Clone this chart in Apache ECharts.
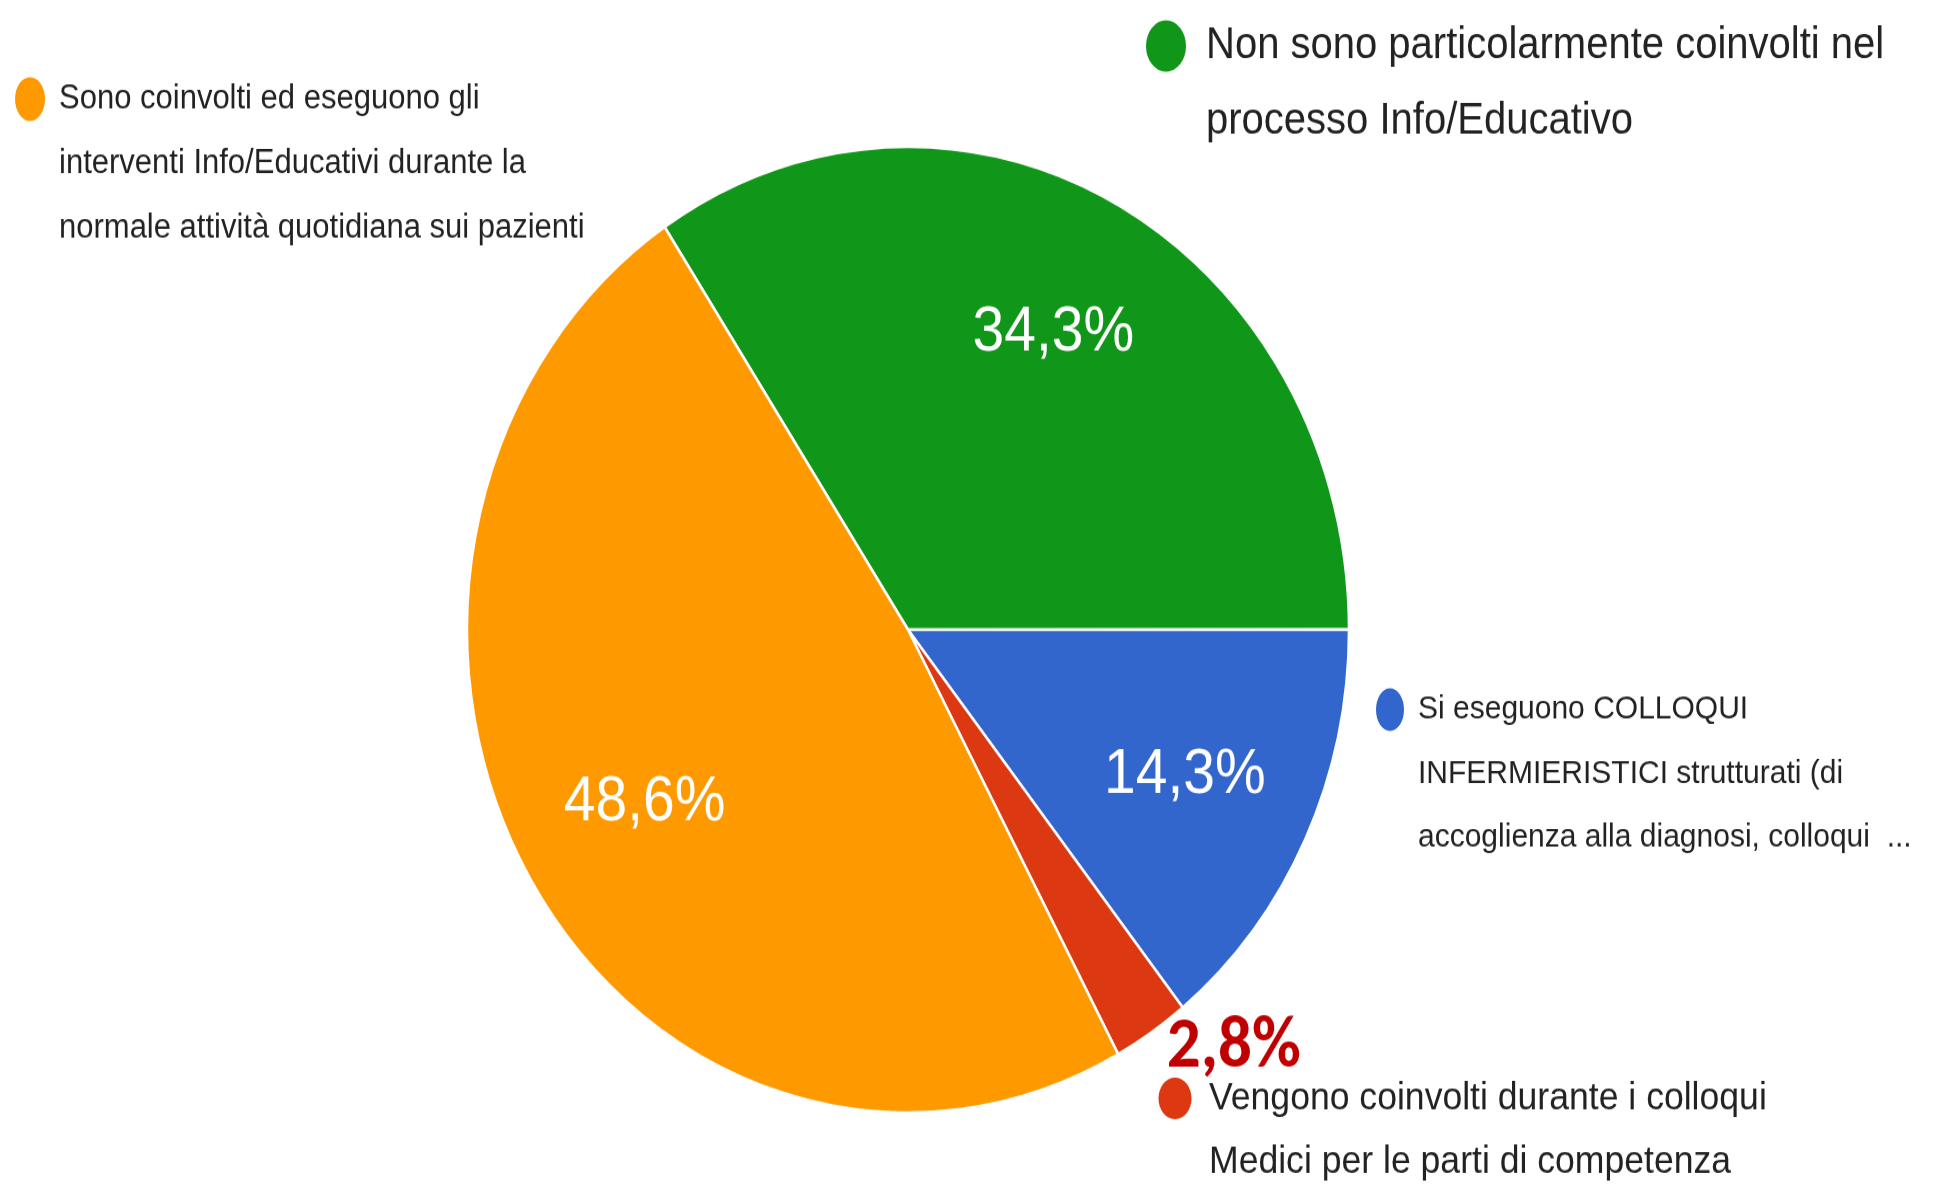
<!DOCTYPE html>
<html>
<head>
<meta charset="utf-8">
<title>Coinvolgimento nel processo Info/Educativo</title>
<script src="https://cdn.jsdelivr.net/npm/echarts@6/dist/echarts.min.js"></script>
<style>
  html, body { margin: 0; padding: 0; background: #fff; }
  #page { width: 1939px; height: 1186px; overflow: hidden; }
  /* the source picture is stretched vertically, so the whole chart is too */
  #chart { width: 1939px; height: 1083px; transform: scaleY(1.0951); transform-origin: 0 0; }
</style>
</head>
<body>
<div id="page"><div id="chart"></div></div>
<script>
"use strict";

// slices, clockwise from the green/orange border
var sliceNames = [
  'Non sono particolarmente coinvolti nel processo Info/Educativo',
  'Si eseguono COLLOQUI INFERMIERISTICI strutturati (di accoglienza alla diagnosi, colloqui ...',
  'Vengono coinvolti durante i colloqui Medici per le parti di competenza',
  'Sono coinvolti ed eseguono gli interventi Info/Educativi durante la normale attività quotidiana sui pazienti'
];
var sliceValues = [34.3, 14.3, 2.8, 48.6];
var sliceColors = ['#109618', '#3366cc', '#dc3912', '#ff9900'];

// legend text as it is wrapped in the picture
var legendLines = [
  ['Non sono particolarmente coinvolti nel', 'processo Info/Educativo'],
  ['Si eseguono COLLOQUI', 'INFERMIERISTICI strutturati (di', 'accoglienza alla diagnosi, colloqui  ...'],
  ['Vengono coinvolti durante i colloqui', 'Medici per le parti di competenza'],
  ['Sono coinvolti ed eseguono gli', 'interventi Info/Educativi durante la', 'normale attività quotidiana sui pazienti']
];

var pieCenter = [908, 575];
var pieRadius = 441;
var startAngle = 123.5;

var percentText = function(value) {
  return value.toFixed(1).replace('.', ',') + '%';
};

var ellipseIcon = function(w, h) {
  return 'path://M0,' + h / 2 + 'A' + w / 2 + ',' + h / 2 + ',0,1,0,' + w + ',' + h / 2 +
    'A' + w / 2 + ',' + h / 2 + ',0,1,0,0,' + h / 2 + 'Z';
};

// one legend per slice, icon lined up with the first text line.
// the icon sits centred in a wider box, which sets the gap before the text
var legendFor = function(i, opt) {
  var lines = legendLines[i];
  var blank = new Array(lines.length).join('\n');
  var top = opt.firstLineY - (lines.length - 1) * opt.lineHeight - opt.lineHeight / 2;
  var boxWidth = 2 * (opt.textX - 5 - opt.iconX);
  return {
    data: [sliceNames[i]],
    left: opt.iconX - opt.iconWidth / 2,
    top: top,
    padding: 0,
    selectedMode: false,
    itemWidth: boxWidth,
    itemHeight: opt.iconHeight,
    icon: ellipseIcon(opt.iconWidth, opt.iconHeight),
    symbolKeepAspect: true,
    itemStyle: { borderWidth: 0 },
    formatter: function() {
      return blank + lines.join('\n');
    },
    textStyle: {
      color: '#222',
      fontFamily: '"Liberation Sans", Arial, sans-serif',
      fontSize: opt.fontSize,
      lineHeight: opt.lineHeight
    }
  };
};

var pieData = [];
var labelData = [];
for (var i = 0; i < sliceNames.length; i++) {
  pieData.push({ name: sliceNames[i], value: sliceValues[i], itemStyle: { color: sliceColors[i] } });
  var item = { name: sliceNames[i], value: sliceValues[i] };
  if (i === 2) {
    // the small slice has its value written outside in bold dark red
    item.label = {
      position: 'outside',
      color: '#c00000',
      fontWeight: 'bold',
      fontSize: 67,
      fontFamily: 'Carlito, "Liberation Sans", sans-serif'
    };
    item.labelLine = { show: false, length: 17, length2: 1 };
  }
  labelData.push(item);
}

var option = {
  animation: false,
  backgroundColor: '#fff',
  legend: [
    legendFor(0, { iconX: 1166, textX: 1206, firstLineY: 42, iconWidth: 40, iconHeight: 47, fontSize: 40, lineHeight: 68.5 }),
    legendFor(1, { iconX: 1390, textX: 1418, firstLineY: 648, iconWidth: 28, iconHeight: 39, fontSize: 30, lineHeight: 58.4 }),
    legendFor(2, { iconX: 1175, textX: 1209, firstLineY: 1003, iconWidth: 33, iconHeight: 38, fontSize: 35.6, lineHeight: 58.4 }),
    legendFor(3, { iconX: 30, textX: 59, firstLineY: 90.4, iconWidth: 30, iconHeight: 40, fontSize: 31, lineHeight: 59 })
  ],
  series: [
    {
      type: 'pie',
      center: pieCenter,
      radius: [0, pieRadius],
      startAngle: startAngle,
      clockwise: true,
      label: { show: false },
      labelLine: { show: false },
      itemStyle: { borderColor: '#fff', borderWidth: 2.5 },
      emphasis: { disabled: true },
      data: pieData
    },
    {
      // transparent ring that only carries the percentage labels
      type: 'pie',
      center: pieCenter,
      radius: [pieRadius * 0.38, pieRadius],
      startAngle: startAngle,
      clockwise: true,
      silent: true,
      legendHoverLink: false,
      avoidLabelOverlap: false,
      itemStyle: { color: 'rgba(0,0,0,0)' },
      label: {
        show: true,
        position: 'inside',
        color: '#fff',
        fontFamily: '"Liberation Sans", Arial, sans-serif',
        fontSize: 57,
        formatter: function(p) { return percentText(p.value); }
      },
      labelLine: { show: false },
      emphasis: { disabled: true },
      data: labelData
    }
  ]
};

var chart = echarts.init(document.getElementById('chart'));
chart.setOption(option);
</script>
</body>
</html>
